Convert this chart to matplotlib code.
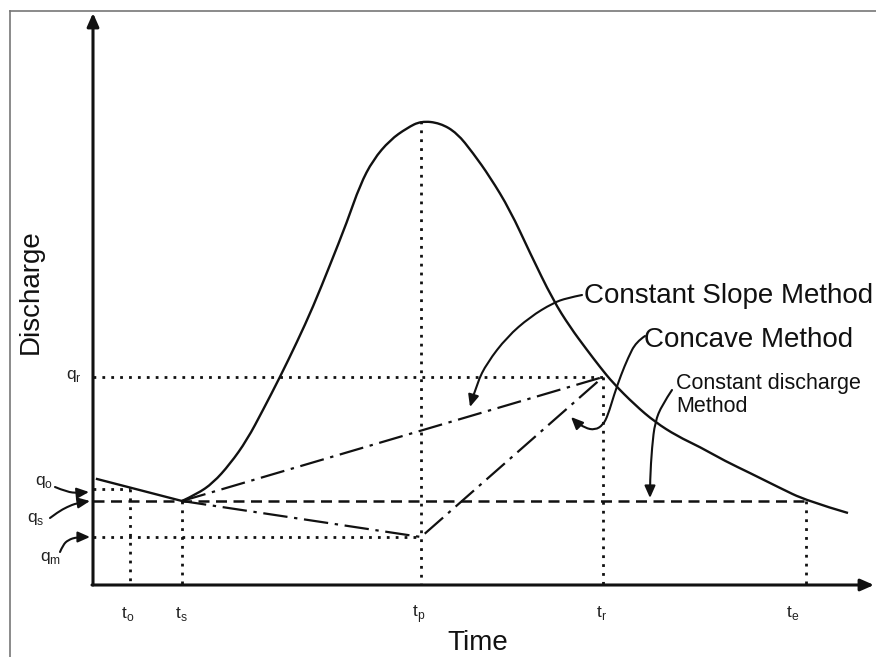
import numpy as np
import matplotlib
matplotlib.use('Agg')
import matplotlib.pyplot as plt
from matplotlib.path import Path
from matplotlib.patches import FancyArrowPatch, PathPatch
from matplotlib.lines import Line2D

plt.rcParams['font.family'] = ['Liberation Sans', 'DejaVu Sans']

# key times / discharges (sketch units)
t_o, t_s, t_p, t_r, t_e = 3.7, 8.9, 32.8, 51.0, 71.3
q_o, q_s, q_m, q_r = 9.6, 8.4, 4.8, 20.8
q_peak = 46.4

# pre-event recession
rec_t = [0.4, 8.9]
rec_q = [10.6, 8.4]

# storm hydrograph from t_s onwards
hydro_t = [8.9, 10.4, 12.0, 13.7, 15.4, 17.0, 18.7, 20.4, 22.0, 23.7, 25.4,
           26.7, 28.0, 29.7, 31.4, 32.8, 34.7, 36.4, 38.0, 39.7, 41.7, 43.7, 46.0,
           47.7, 49.4, 50.7, 52.0, 54.2, 56.2, 58.4, 60.7, 63.2, 65.7, 68.5, 71.4, 75.5]
hydro_q = [8.4, 9.1, 10.2, 12.1, 14.5, 17.5, 20.8, 24.3, 27.8, 32.0, 36.3,
           40.0, 42.5, 44.5, 45.7, 46.4, 46.2, 45.2, 43.2, 40.8, 37.5, 33.2, 28.5,
           25.8, 23.5, 21.8, 20.2, 18.0, 16.3, 14.9, 13.8, 12.4, 11.2, 9.8, 8.4, 7.2]

# annotation leader curves
slope_arrow_t = [48.9, 47.4, 46.0, 43.7, 41.4, 39.4, 38.4, 37.7]
slope_arrow_q = [29.0, 28.7, 28.2, 26.8, 24.8, 22.2, 20.2, 17.8]
concave_arrow_t = [55.2, 54.3, 53.5, 52.8, 52.1, 51.5, 51.0, 50.2, 49.2, 48.2, 47.8]
concave_arrow_q = [24.9, 24.3, 22.7, 21.0, 19.0, 17.0, 16.0, 15.5, 15.7, 16.4, 16.8]
const_arrow_t = [57.9, 56.9, 56.2, 55.9, 55.7, 55.7]
const_arrow_q = [19.5, 18.0, 16.3, 13.8, 10.5, 8.7]
qo_arrow_t = [-3.8, -2.6, -1.5, -0.4]
qo_arrow_q = [9.8, 9.3, 9.2, 9.3]
qs_arrow_t = [-4.3, -3.5, -2.6, -1.6, -0.3]
qs_arrow_q = [6.7, 7.3, 7.8, 8.2, 8.4]
qm_arrow_t = [-3.3, -3.0, -2.5, -1.6, -0.3]
qm_arrow_q = [3.3, 4.0, 4.5, 4.8, 4.8]

W, H = 876, 657
fig = plt.figure(figsize=(W / 100, H / 100), dpi=100)
ax = fig.add_axes([93 / W, 72 / H, 783 / W, 585 / H])
ax.set_xlim(0, 78.3)
ax.set_ylim(0, 58.5)
ax.axis('off')

# photo frame
fig.add_artist(Line2D([10 / W, 10 / W], [0, 1 - 11 / H], color='#777', lw=1.2))
fig.add_artist(Line2D([10 / W, 1], [1 - 11 / H, 1 - 11 / H], color='#777', lw=1.2))

ink = '#111111'
dot = dict(color=ink, lw=2.0, linestyle=(0, (1, 2.2)), dash_capstyle='butt', clip_on=False)
dash = dict(color=ink, lw=1.8, linestyle=(0, (4.4, 2.6)), clip_on=False)
dashdot = dict(color=ink, lw=1.6, linestyle=(0, (11, 3, 1.5, 3)), clip_on=False)

# axes with arrows
axis_arrow = dict(arrowstyle='-|>,head_length=0.5,head_width=0.22',
                  lw=2.2, color=ink, mutation_scale=16, shrinkA=0, shrinkB=0)
ax.annotate('', xy=(0, 57.2), xytext=(0, 0), arrowprops=axis_arrow, annotation_clip=False)
ax.annotate('', xy=(78.1, 0), xytext=(-0.1, 0), arrowprops=axis_arrow, annotation_clip=False)

# dotted guide lines
ax.plot([0, t_o], [q_o, q_o], **dot)
ax.plot([t_o, t_o], [q_o, 0], **dot)
ax.plot([t_s, t_s], [q_s, 0], **dot)
ax.plot([0, t_p], [q_m, q_m], **dot)
ax.plot([t_p, t_p], [q_peak, 0], **dot)
ax.plot([0, t_r], [q_r, q_r], **dot)
ax.plot([t_r, t_r], [q_r, 0], **dot)
ax.plot([t_e, t_e], [q_s, 0], **dot)

# separation methods
ax.plot([0, t_e], [q_s, q_s], **dash)                       # constant discharge
ax.plot([t_s, t_r], [q_s, q_r], **dashdot)                  # constant slope
ax.plot([t_s, t_p, t_r], [q_s, q_m, q_r], **dashdot)        # concave


def smooth_path(ts, qs):
    # quadratic bezier through midpoints, read points act as control points
    pts = np.column_stack([ts, qs])
    verts = [pts[0]]
    codes = [Path.MOVETO]
    for i in range(1, len(pts) - 1):
        mid = (pts[i] + pts[i + 1]) / 2
        end = pts[-1] if i == len(pts) - 2 else mid
        verts += [pts[i], end]
        codes += [Path.CURVE3, Path.CURVE3]
    return Path(verts, codes)


# hydrograph
ax.plot(rec_t, rec_q, color=ink, lw=1.7, clip_on=False)
ax.add_patch(PathPatch(smooth_path(hydro_t, hydro_q), fill=False, edgecolor=ink,
                       lw=1.7, clip_on=False))

head = '-|>,head_length=0.45,head_width=0.2'


def leader(ts, qs, lw=1.5):
    p = smooth_path(ts, qs)
    arr = FancyArrowPatch(path=p, arrowstyle=head, mutation_scale=16,
                          color=ink, lw=lw, clip_on=False)
    ax.add_patch(arr)


leader(slope_arrow_t, slope_arrow_q)
leader(concave_arrow_t, concave_arrow_q)
leader(const_arrow_t, const_arrow_q)
leader(qo_arrow_t, qo_arrow_q, lw=1.5)
leader(qs_arrow_t, qs_arrow_q, lw=1.5)
leader(qm_arrow_t, qm_arrow_q, lw=1.5)

# method labels
ax.text(49.1, 28.9, 'Constant Slope Method', fontsize=20, color=ink,
        ha='left', va='center', clip_on=False)
ax.text(55.1, 24.5, 'Concave Method', fontsize=20, color=ink,
        ha='left', va='center', clip_on=False)
ax.text(58.3, 19.0, 'Constant discharge\nMethod', fontsize=15.5, color=ink,
        ha='left', va='center', linespacing=1.15, clip_on=False)

# q and t markers
qlab = dict(fontsize=12.5, color='#222', ha='center', va='center', clip_on=False)
ax.text(-4.9, 10.3, r'q$_\mathregular{o}$', **qlab)
ax.text(-5.7, 6.6, r'q$_\mathregular{s}$', **qlab)
ax.text(-4.2, 2.7, r'q$_\mathregular{m}$', **qlab)
ax.text(-1.9, 20.9, r'q$_\mathregular{r}$', **qlab)
ax.text(t_o - 0.2, -2.9, r't$_\mathregular{o}$', **qlab)
ax.text(t_s - 0.1, -2.9, r't$_\mathregular{s}$', **qlab)
ax.text(t_p - 0.2, -2.9, r't$_\mathregular{p}$', **qlab)
ax.text(t_r - 0.2, -2.8, r't$_\mathregular{r}$', **qlab)
ax.text(t_e - 1.3, -2.8, r't$_\mathregular{e}$', **qlab)

# axis titles
ax.text(-6.2, 29.3, 'Discharge', fontsize=20, rotation=90, color=ink,
        ha='center', va='center', clip_on=False)
ax.text(38.5, -5.8, 'Time', fontsize=20, color=ink,
        ha='center', va='center', clip_on=False)

fig.savefig('out.png', dpi=100, facecolor='white')
